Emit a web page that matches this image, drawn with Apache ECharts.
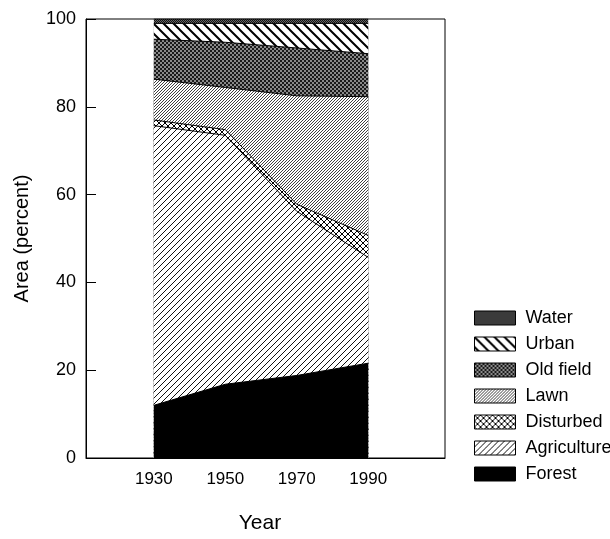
<!DOCTYPE html>
<html>
<head>
<meta charset="utf-8">
<script src="https://cdn.jsdelivr.net/npm/echarts@6/dist/echarts.min.js"></script>
<style>
html,body{margin:0;padding:0;background:#fff;}
#chart{width:610px;height:539px;}
</style>
</head>
<body>
<div id="chart"></div>
<script>
// ---- data ----
var years = [1930, 1950, 1970, 1990];
var xTickLabels = ['1930', '1950', '1970', '1990'];
var yTickValues = [0, 20, 40, 60, 80, 100];
var forest      = [12.0, 16.8, 18.8, 21.6];
var agriculture = [63.7, 56.7, 37.4, 24.1];
var disturbed   = [1.3, 1.3, 1.6, 5.0];
var lawn        = [9.3, 9.6, 24.7, 31.6];
var oldField    = [9.1, 10.3, 10.9, 9.8];
var urban       = [3.6, 4.3, 5.6, 6.9];
var water       = [1.0, 1.0, 1.0, 1.0];
var legendOrder = ['Water', 'Urban', 'Old field', 'Lawn', 'Disturbed', 'Agriculture', 'Forest'];

// ---- patterns ----
function tile(size, draw) {
  var c = document.createElement('canvas');
  c.width = size; c.height = size;
  var ctx = c.getContext('2d');
  ctx.fillStyle = '#ffffff';
  ctx.fillRect(0, 0, size, size);
  draw(ctx, size);
  return { image: c, repeat: 'repeat' };
}
function fwd(ctx, p, w, col) { // '/' lines: x + y = c
  ctx.strokeStyle = col; ctx.lineWidth = w; ctx.beginPath();
  [0, p, 2 * p].forEach(function (c) { ctx.moveTo(-p, c + p); ctx.lineTo(2 * p, c - 2 * p); });
  ctx.stroke();
}
function back(ctx, p, w, col) { // '\' lines: x - y = c
  ctx.strokeStyle = col; ctx.lineWidth = w; ctx.beginPath();
  [-p, 0, p].forEach(function (c) { ctx.moveTo(-p, -p - c); ctx.lineTo(2 * p, 2 * p - c); });
  ctx.stroke();
}
function pixels(size, fn) {
  return tile(size, function (ctx) {
    for (var y = 0; y < size; y++) for (var x = 0; x < size; x++) {
      var col = fn(x, y);
      if (col) { ctx.fillStyle = col; ctx.fillRect(x, y, 1, 1); }
    }
  });
}
function mod(a, n) { return ((a % n) + n) % n; }

var pat = {
  'Forest': '#000000',
  'Agriculture': tile(6, function (ctx, p) { fwd(ctx, p, 1.0, '#111'); }),
  'Disturbed': tile(6, function (ctx, p) { fwd(ctx, p, 1.0, '#000'); back(ctx, p, 1.0, '#000'); }),
  'Lawn': tile(3, function (ctx, p) { fwd(ctx, p, 0.9, '#2a2a2a'); }),
  'Old field': pixels(4, function (x, y) { return (mod(Math.floor(x / 2) + Math.floor(y / 2), 2) === 0) ? '#1a1a1a' : '#8a8a8a'; }),
  'Urban': tile(10, function (ctx, p) { back(ctx, p, 2.0, '#000'); }),
  'Water': pixels(2, function (x, y) { return mod(x + y, 2) === 0 ? '#111' : '#666'; })
};

// bottom-to-top order
var layers = [
  ['Forest', forest],
  ['Agriculture', agriculture],
  ['Disturbed', disturbed],
  ['Lawn', lawn],
  ['Old field', oldField],
  ['Urban', urban],
  ['Water', water]
];

// cumulative tops (manual stacking)
var running = years.map(function () { return 0; });
var cum = layers.map(function (l) {
  running = running.map(function (v, i) { return v + l[1][i]; });
  return [l[0], running.slice()];
});

// draw top layer first so lower layers paint over it
var series = cum.slice().reverse().map(function (s) {
  return {
    name: s[0],
    type: 'line',
    showSymbol: false,
    symbol: 'none',
    smooth: false,
    data: years.map(function (yr, i) { return [yr, s[1][i]]; }),
    lineStyle: { color: '#000', width: 1 },
    itemStyle: { color: '#000' },
    areaStyle: { color: pat[s[0]], opacity: 1 },
    emphasis: { disabled: true },
    silent: true
  };
});

var chart = echarts.init(document.getElementById('chart'), null, { renderer: 'canvas' });
chart.setOption({
  animation: false,
  backgroundColor: '#fff',
  textStyle: { fontFamily: 'Liberation Sans, Arial, sans-serif' },
  grid: {
    left: 86, right: 165, top: 19, bottom: 76,
    show: true, borderColor: '#000', borderWidth: 1, backgroundColor: 'transparent'
  },
  legend: {
    data: legendOrder.map(function (n) {
      return { name: n, itemStyle: { color: pat[n], borderColor: '#000', borderWidth: 1 } };
    }),
    orient: 'vertical',
    left: 469, top: 304,
    icon: 'rect',
    itemWidth: 41, itemHeight: 14, itemGap: 8,
    textStyle: { fontSize: 18, color: '#000', fontFamily: 'Liberation Sans, Arial, sans-serif', padding: [0, 0, 0, 5] },
    selectedMode: false
  },
  xAxis: {
    type: 'value',
    min: 1911, max: 2011.5,
    name: 'Year',
    nameLocation: 'middle',
    nameGap: 55,
    nameTextStyle: { fontSize: 21, color: '#000', padding: [0, 11, 0, 0] },
    axisLine: { show: true, lineStyle: { color: '#000', width: 1 } },
    axisTick: { show: false },
    splitLine: { show: false },
    axisLabel: {
      customValues: years,
      fontSize: 17, color: '#000', margin: 13,
      formatter: function (v) { var i = years.indexOf(v); return i >= 0 ? xTickLabels[i] : ''; }
    }
  },
  yAxis: {
    type: 'value',
    min: 0, max: 100, interval: 20,
    name: 'Area (percent)',
    nameLocation: 'middle',
    nameGap: 54,
    nameTextStyle: { fontSize: 20, color: '#000' },
    axisLine: { show: true, lineStyle: { color: '#000', width: 1 } },
    axisTick: { show: true, inside: true, length: 10, lineStyle: { color: '#000' } },
    splitLine: { show: false },
    axisLabel: {
      fontSize: 18, color: '#000', margin: 10,
      formatter: function (v) { return yTickValues.indexOf(v) >= 0 ? String(v) : ''; }
    }
  },
  series: series
});
</script>
</body>
</html>
